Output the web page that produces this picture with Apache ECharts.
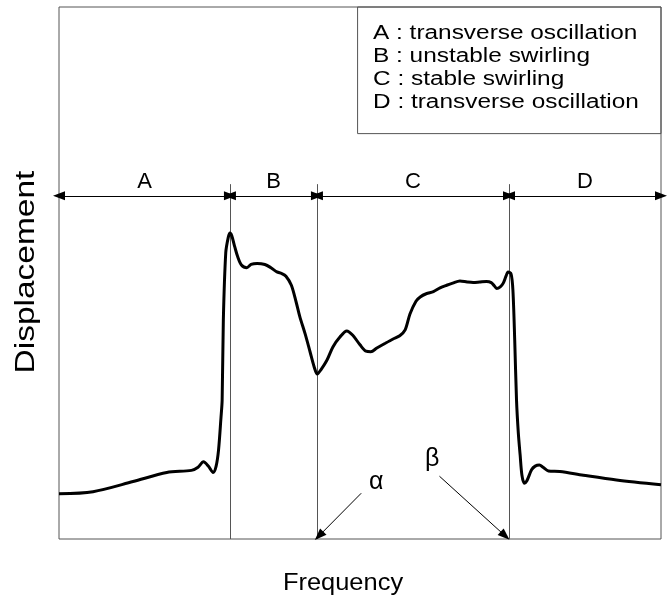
<!DOCTYPE html>
<html>
<head>
<meta charset="utf-8">
<script src="https://cdn.jsdelivr.net/npm/echarts@6/dist/echarts.min.js"></script>
<style>
  html, body { margin: 0; padding: 0; background: #fff; }
  #chart { width: 670px; height: 599px; }
</style>
</head>
<body>
<div id="chart"></div>
<script>
// Frequency response curve (arbitrary units, 0-100 on both axes)
const freq = [0, 5.65, 12.3, 17.9, 22.0, 23.1, 24.0, 24.8, 25.6, 26.1, 26.5, 26.9, 27.1, 27.3, 27.7, 28.1, 28.4, 28.7, 29.2, 29.7,
  30.3, 31.2, 31.9, 32.9, 34.2, 35.2, 36.2, 37.0, 37.7, 38.6, 39.4, 40.0, 40.9, 41.7, 42.4, 42.9, 43.5, 44.5, 45.5, 46.7,
  47.8, 48.8, 50.0, 51.0, 51.8, 52.8, 54.2, 55.5, 56.6, 57.5, 58.3, 59.3, 60.0, 61.0, 62.2, 63.3, 64.4, 65.4, 66.6, 67.8,
  68.8, 69.9, 71.0, 71.8, 72.3, 72.7, 73.3, 73.8, 74.25, 74.6, 75.1, 75.4, 75.7, 76.0, 76.3, 76.6, 76.9, 77.3, 77.7, 78.5,
  79.1, 79.8, 80.4, 81.3, 83.2, 87.1, 92.6, 100];
const disp = [8.5, 8.9, 10.8, 12.5, 12.9, 13.5, 14.5, 13.7, 12.5, 13.7, 16.7, 22.7, 26.1, 41.2, 53.8, 56.6, 57.5, 57.0, 54.9, 53.0,
  51.5, 51.0, 51.6, 51.8, 51.6, 51.0, 50.2, 49.9, 49.4, 47.7, 44.5, 41.8, 38.5, 35.2, 32.3, 31.0, 31.8, 33.6, 36.1, 38.0,
  39.1, 38.3, 36.5, 35.3, 35.2, 35.9, 36.8, 37.6, 38.2, 39.3, 42.3, 44.7, 45.5, 46.1, 46.5, 47.2, 47.7, 48.1, 48.5, 48.3,
  48.2, 48.3, 48.4, 48.2, 47.6, 47.1, 47.4, 48.1, 49.4, 50.2, 49.8, 46.8, 37.4, 26.1, 19.9, 15.8, 12.0, 10.5, 10.9, 13.0,
  13.7, 13.9, 13.5, 12.8, 12.7, 12.0, 11.1, 10.2];

// Regime boundaries along the frequency axis
const regionEdges = [0, 28.4, 42.85, 74.75, 100];
const regionLabels = ['A', 'B', 'C', 'D'];
const dividerTop = 66.7;
const arrowLevel = 64.5;

// Legend box and its entries
const legendBox = [[49.6, 76.2], [100, 100]];
const legendLines = [
  'A : transverse oscillation',
  'B : unstable swirling',
  'C : stable swirling',
  'D : transverse oscillation'
];

// Critical frequencies α and β: label position and arrow tip
const critLabels = ['α', 'β'];
const critText = [[52.7, 10.7], [62.0, 15.0]];
const critFrom = [[50.2, 8.6], [63.2, 11.8]];
const critTo = [[43.2, 0.6], [74.1, 0.6]];

const FONT = '"Liberation Sans", Arial, sans-serif';

const curve = freq.map((f, i) => [f, disp[i]]);

const dividers = regionEdges.slice(1, -1).map(x => [
  { coord: [x, 0] }, { coord: [x, dividerTop] }
]);

const spans = regionLabels.map((name, i) => [
  { coord: [regionEdges[i], arrowLevel], name: name },
  { coord: [regionEdges[i + 1], arrowLevel] }
]);

const critArrows = critLabels.map((n, i) => [
  { coord: critFrom[i] }, { coord: critTo[i] }
]);

const chart = echarts.init(document.getElementById('chart'), null, { renderer: 'canvas' });

chart.setOption({
  animation: false,
  backgroundColor: '#fff',
  grid: {
    left: 59, right: 9, top: 7, bottom: 60,
    show: true, borderColor: '#555', borderWidth: 1, backgroundColor: 'transparent'
  },
  xAxis: {
    type: 'value', min: 0, max: 100,
    axisLine: { show: false }, axisTick: { show: false }, axisLabel: { show: false }, splitLine: { show: false }
  },
  yAxis: {
    type: 'value', min: 0, max: 100,
    axisLine: { show: false }, axisTick: { show: false }, axisLabel: { show: false }, splitLine: { show: false }
  },
  series: [
    {
      // regime dividers and the legend frame
      type: 'line', data: [], silent: true,
      markLine: {
        silent: true, symbol: ['none', 'none'], animation: false,
        lineStyle: { color: '#555', width: 1, type: 'solid' },
        label: { show: false },
        data: dividers
      },
      markArea: {
        silent: true,
        itemStyle: { color: 'rgba(255,255,255,0)', borderColor: '#555', borderWidth: 1 },
        data: [[{ coord: legendBox[0] }, { coord: legendBox[1] }]]
      }
    },
    {
      // regime span arrows with their letters
      type: 'line', data: [], silent: true,
      markLine: {
        silent: true, symbol: ['triangle', 'triangle'], symbolSize: [9, 12], animation: false,
        lineStyle: { color: '#000', width: 1, type: 'solid' },
        label: {
          show: true, position: 'middle', formatter: p => p.name, distance: 3,
          fontFamily: FONT, fontSize: 22, color: '#000'
        },
        data: spans
      }
    },
    {
      // arrows pointing at α and β
      type: 'line', data: [], silent: true,
      markLine: {
        silent: true, symbol: ['none', 'triangle'], symbolSize: [9, 12], animation: false,
        lineStyle: { color: '#000', width: 1, type: 'solid' },
        label: { show: false },
        data: critArrows
      },
      markPoint: {
        silent: true, symbol: 'circle', symbolSize: 0,
        label: { show: true, position: 'inside', fontFamily: FONT, fontSize: 25, color: '#000', formatter: p => p.name },
        data: critLabels.map((n, i) => ({ name: n, coord: critText[i] }))
      }
    },
    {
      // displacement curve
      type: 'line', data: curve, smooth: 0.3, symbol: 'none',
      lineStyle: { color: '#000', width: 3 }, z: 5
    }
  ],
  graphic: [
    ...legendLines.map((t, i) => ({
      type: 'text', x: 373, y: 33 + i * 23, scaleX: 1.22,
      style: { text: t, fontFamily: FONT, fontSize: 20, fill: '#000', align: 'left', verticalAlign: 'middle' }
    })),
    {
      type: 'text', x: 343, y: 583, scaleX: 1.06,
      style: { text: 'Frequency', fontFamily: FONT, fontSize: 24, fill: '#000', align: 'center', verticalAlign: 'middle' }
    },
    {
      type: 'text', x: 27, y: 272, rotation: Math.PI / 2, scaleX: 1.24,
      style: { text: 'Displacement', fontFamily: FONT, fontSize: 27, fill: '#000', align: 'center', verticalAlign: 'middle' }
    }
  ]
});
</script>
</body>
</html>
